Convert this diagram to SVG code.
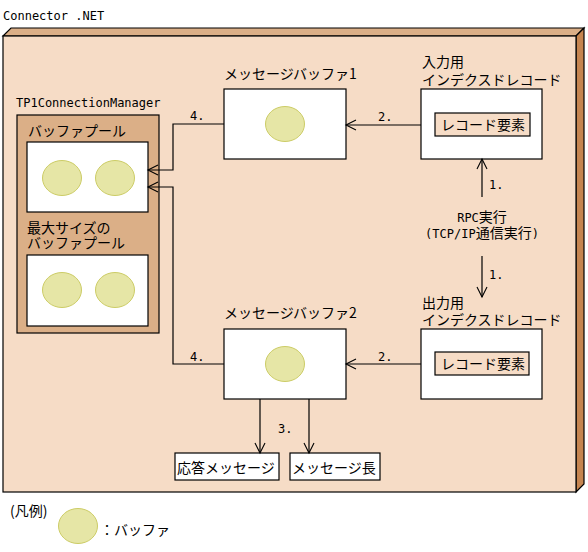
<svg xmlns="http://www.w3.org/2000/svg" width="588" height="552" viewBox="0 0 588 552">
<defs>
<style>
.t{font-family:"Noto Sans CJK JP","DejaVu Sans Mono",monospace;font-size:14px;fill:#000}
.m{font-family:"DejaVu Sans Mono","Noto Sans CJK JP",monospace;font-size:12px;fill:#000}
.box{fill:#fff;stroke:#000;stroke-width:1.2}
.rec{fill:#F6DCC6;stroke:#000;stroke-width:1.2}
.buf{fill:#E6E6A6;stroke:#CCCC66;stroke-width:1}
.ln{fill:none;stroke:#000;stroke-width:1.2}
</style>
<marker id="ah" markerUnits="userSpaceOnUse" markerWidth="14" markerHeight="14" viewBox="-12 -7 14 14" refX="0" refY="0" orient="auto" overflow="visible">
<path d="M-10,-5 L0,0 L-10,5" fill="none" stroke="#000" stroke-width="1.1"/>
</marker>
</defs>
<rect width="588" height="552" fill="#fff"/>
<text class="m" x="3" y="20">Connector .NET</text>
<g id="container">
<polygon points="3,36 11,28 584,28 576,36" fill="#DBAF87" stroke="#000" stroke-width="1.2"/>
<polygon points="576,36 584,28 584,484 576,492" fill="#C68550" stroke="#000" stroke-width="1.2"/>
<rect x="3" y="36" width="573" height="456" fill="#F6DCC6" stroke="#000" stroke-width="1.2"/>
</g>
<g id="manager">
<text class="m" x="16" y="107">TP1ConnectionManager</text>
<rect x="17" y="115" width="142" height="218" fill="#DBAF87" stroke="#000" stroke-width="1.2"/>
<text class="t" x="28" y="136">バッファプール</text>
<rect class="box" x="27" y="142" width="121" height="70"/>
<ellipse class="buf" cx="62" cy="178" rx="19.5" ry="17.5"/>
<ellipse class="buf" cx="115" cy="178" rx="19.5" ry="17.5"/>
<text class="t" x="27" y="233">最大サイズの</text>
<text class="t" x="27" y="248">バッファプール</text>
<rect class="box" x="27" y="255" width="121" height="71"/>
<ellipse class="buf" cx="62" cy="290" rx="19.5" ry="17.5"/>
<ellipse class="buf" cx="115" cy="290" rx="19.5" ry="17.5"/>
</g>
<g id="msgbuf1">
<text class="t" x="224" y="79">メッセージバッファ1</text>
<rect class="box" x="224" y="89" width="122" height="70"/>
<ellipse class="buf" cx="285" cy="124" rx="19.5" ry="17.5"/>
</g>
<g id="inrec">
<text class="t" x="422" y="67">入力用</text>
<text class="t" x="422" y="85">インデクスドレコード</text>
<rect class="box" x="421" y="89" width="121" height="70"/>
<rect class="rec" x="435" y="113" width="95" height="23"/>
<text class="t" x="441" y="130">レコード要素</text>
</g>
<g id="rpc">
<text class="t" x="482" y="222" text-anchor="middle"><tspan class="m">RPC</tspan>実行</text>
<text class="t" x="482" y="238" text-anchor="middle"><tspan class="m">(TCP/IP</tspan>通信実行<tspan class="m">)</tspan></text>
</g>
<g id="outrec">
<text class="t" x="422" y="308">出力用</text>
<text class="t" x="422" y="325">インデクスドレコード</text>
<rect class="box" x="421" y="329" width="121" height="70"/>
<rect class="rec" x="435" y="352" width="94" height="23"/>
<text class="t" x="441" y="369">レコード要素</text>
</g>
<g id="msgbuf2">
<text class="t" x="224" y="318">メッセージバッファ2</text>
<rect class="box" x="224" y="329" width="122" height="70"/>
<ellipse class="buf" cx="285" cy="364" rx="19.5" ry="17.5"/>
</g>
<g id="resp">
<rect class="box" x="175" y="453" width="104" height="27"/>
<text class="t" x="177" y="473">応答メッセージ</text>
</g>
<g id="len">
<rect class="box" x="290" y="453" width="90" height="27"/>
<text class="t" x="292" y="473">メッセージ長</text>
</g>
<g id="connectors">
<path class="ln" d="M421,125 L346,125" marker-end="url(#ah)"/>
<text class="m" x="378" y="121">2.</text>
<path class="ln" d="M421,364 L346,364" marker-end="url(#ah)"/>
<text class="m" x="378" y="361">2.</text>
<path class="ln" d="M482,197 L482,159" marker-end="url(#ah)"/>
<text class="m" x="489" y="189">1.</text>
<path class="ln" d="M482,256 L482,297" marker-end="url(#ah)"/>
<text class="m" x="489" y="279">1.</text>
<path class="ln" d="M224,124 L173,124 L173,170 L148,170" marker-end="url(#ah)"/>
<text class="m" x="190" y="120">4.</text>
<path class="ln" d="M224,364 L173,364 L173,187 L148,187" marker-end="url(#ah)"/>
<text class="m" x="190" y="361">4.</text>
<path class="ln" d="M260,399 L260,453" marker-end="url(#ah)"/>
<path class="ln" d="M309,399 L309,453" marker-end="url(#ah)"/>
<text class="m" x="278" y="433">3.</text>
</g>
<g id="legend">
<text class="t" x="10" y="516">(凡例)</text>
<ellipse class="buf" cx="78" cy="526" rx="19.5" ry="17.5"/>
<text class="t" x="100" y="535">：バッファ</text>
</g>
</svg>
